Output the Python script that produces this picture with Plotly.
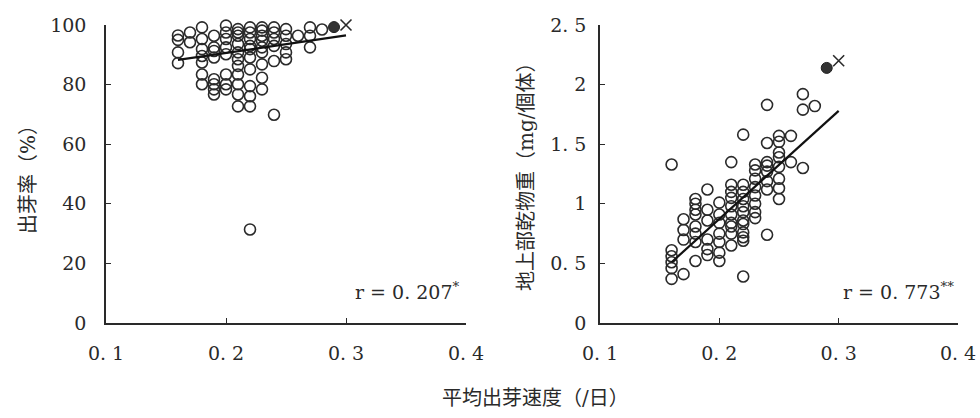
import plotly.graph_objects as go

# ---- data -------------------------------------------------------------
# mean emergence speed (/day) for each column of points
speed_cols = [0.16, 0.17, 0.18, 0.19, 0.20, 0.21, 0.22, 0.23, 0.24, 0.25, 0.26, 0.27, 0.28]

# emergence rate (%) per column
emergence = [
    [96.5, 95.0, 90.8, 87.2],
    [97.5, 94.2],
    [99.2, 95.3, 91.9, 89.6, 87.4, 83.4, 80.1],
    [96.4, 92.5, 91.3, 89.1, 81.8, 80.1, 78.4, 76.7],
    [99.8, 97.5, 95.3, 92.5, 90.2, 83.4, 80.1, 78.4],
    [98.6, 97.5, 96.4, 93.6, 90.8, 88.5, 86.3, 83.4, 80.1, 76.7, 72.7],
    [99.2, 97.5, 95.3, 93.0, 91.9, 89.1, 85.1, 79.5, 76.1, 72.7, 31.4],
    [99.2, 98.1, 96.4, 94.7, 92.5, 90.8, 86.8, 82.3, 78.4],
    [99.2, 97.5, 95.3, 93.0, 87.9, 69.9],
    [98.6, 96.4, 93.6, 90.8, 88.5],
    [96.4],
    [99.2, 96.4, 92.5],
    [98.5],
]

# shoot dry weight (mg/plant) per column
dry_weight = [
    [1.33, 0.61, 0.56, 0.51, 0.46, 0.37],
    [0.87, 0.78, 0.70, 0.41],
    [1.04, 1.00, 0.95, 0.91, 0.81, 0.75, 0.68, 0.52],
    [1.12, 0.95, 0.86, 0.70, 0.62, 0.57],
    [1.01, 0.91, 0.84, 0.75, 0.68, 0.59, 0.52],
    [1.35, 1.16, 1.10, 1.05, 0.98, 0.91, 0.84, 0.81, 0.75, 0.65],
    [1.58, 1.16, 1.10, 1.04, 0.98, 0.93, 0.86, 0.83, 0.76, 0.72, 0.69, 0.39],
    [1.33, 1.28, 1.21, 1.14, 1.07, 1.00, 0.93, 0.88],
    [1.83, 1.51, 1.35, 1.32, 1.27, 1.19, 1.12, 0.74],
    [1.57, 1.52, 1.43, 1.39, 1.31, 1.21, 1.13, 1.04],
    [1.57, 1.35],
    [1.92, 1.79, 1.30],
    [1.82],
]

# highlighted lots (filled circle and cross)
filled_speed = [0.29]
filled_emergence = [99.3]
filled_weight = [2.14]
cross_speed = [0.30]
cross_emergence = [100.0]
cross_weight = [2.20]

# regression line end points
fit_speed = [0.16, 0.30]
fit_emergence = [88.3, 96.5]
fit_weight = [0.51, 1.78]

x_ticks = [0.1, 0.2, 0.3, 0.4]
x_tick_text = ["0. 1", "0. 2", "0. 3", "0. 4"]
y1_ticks = [0, 20, 40, 60, 80, 100]
y1_tick_text = ["0", "20", "40", "60", "80", "100"]
y2_ticks = [0, 0.5, 1, 1.5, 2, 2.5]
y2_tick_text = ["0", "0. 5", "1", "1. 5", "2", "2. 5"]

r_left = "r = 0. 207<sup>*</sup>"
r_right = "r = 0. 773<sup>**</sup>"
x_title = "平均出芽速度（/日）"
y1_title = "出芽率（%）"
y2_title = "地上部乾物重（mg/個体）"


def flatten(cols, groups):
    xs, ys = [], []
    for c, g in zip(cols, groups):
        for v in g:
            xs.append(c)
            ys.append(v)
    return xs, ys


INK = "#2a2a2a"
FONT = "DejaVu Serif, Noto Sans CJK JP"
W, H = 980, 418

fig = go.Figure()

panels = [
    ("x", "y", emergence, filled_emergence, cross_emergence, fit_emergence),
    ("x2", "y2", dry_weight, filled_weight, cross_weight, fit_weight),
]
for xa, ya, groups, f_y, c_y, fit_y in panels:
    px, py = flatten(speed_cols, groups)
    fig.add_trace(go.Scatter(
        x=px, y=py, mode="markers", xaxis=xa, yaxis=ya, cliponaxis=False,
        marker=dict(symbol="circle-open", size=11, color=INK, line=dict(width=1.6, color=INK)),
        showlegend=False, hoverinfo="skip"))
    fig.add_trace(go.Scatter(
        x=fit_speed, y=fit_y, mode="lines", xaxis=xa, yaxis=ya,
        line=dict(color="#111111", width=2.2), showlegend=False, hoverinfo="skip"))
    fig.add_trace(go.Scatter(
        x=filled_speed, y=f_y, mode="markers", xaxis=xa, yaxis=ya, cliponaxis=False,
        marker=dict(symbol="circle", size=11, color="#333333", line=dict(width=1, color="#222222")),
        showlegend=False, hoverinfo="skip"))
    fig.add_trace(go.Scatter(
        x=cross_speed, y=c_y, mode="markers", xaxis=xa, yaxis=ya, cliponaxis=False,
        marker=dict(symbol="x-thin-open", size=11, color=INK, line=dict(width=1.6, color=INK)),
        showlegend=False, hoverinfo="skip"))

axis_common = dict(
    showline=True, linecolor=INK, linewidth=1.6, mirror=False,
    showgrid=False, zeroline=False, automargin=False,
    ticks="inside", ticklen=5, tickwidth=1.4, tickcolor=INK,
    tickfont=dict(family=FONT, size=19, color=INK),
)

y_dom = [(H - 323) / H, (H - 25) / H]

fig.update_layout(
    width=W, height=H,
    margin=dict(l=0, r=0, t=0, b=0, autoexpand=False),
    paper_bgcolor="white", plot_bgcolor="rgba(0,0,0,0)",
    font=dict(family=FONT, color=INK),
    xaxis=dict(domain=[106 / W, 466 / W], range=[0.1, 0.4], tickvals=x_ticks,
               ticktext=x_tick_text, anchor="y", ticklabelstandoff=12, **axis_common),
    yaxis=dict(domain=y_dom, range=[0, 100], tickvals=y1_ticks, ticktext=y1_tick_text,
               anchor="x", ticklabelstandoff=14, **axis_common),
    xaxis2=dict(domain=[600 / W, 958 / W], range=[0.1, 0.4], tickvals=x_ticks,
                ticktext=x_tick_text, anchor="y2", ticklabelstandoff=12, **axis_common),
    yaxis2=dict(domain=y_dom, range=[0, 2.5], tickvals=y2_ticks, ticktext=y2_tick_text,
                anchor="x2", ticklabelstandoff=8, **axis_common),
)

annotations = [
    dict(text=r_left, x=462 / W, y=1 - 291 / H, xanchor="right", yanchor="middle",
         font=dict(family=FONT, size=19, color=INK)),
    dict(text=r_right, x=956 / W, y=1 - 291 / H, xanchor="right", yanchor="middle",
         font=dict(family=FONT, size=19, color=INK)),
    dict(text=x_title, x=535 / W, y=1 - 398 / H, xanchor="center", yanchor="middle",
         font=dict(family=FONT, size=20, color=INK)),
    dict(text=y1_title, x=28 / W, y=1 - 175 / H, xanchor="center", yanchor="middle",
         textangle=-90, font=dict(family=FONT, size=20, color=INK)),
    dict(text=y2_title, x=526 / W, y=1 - 172 / H, xanchor="center", yanchor="middle",
         textangle=-90, font=dict(family=FONT, size=20, color=INK)),
]
for a in annotations:
    a.update(xref="paper", yref="paper", showarrow=False)
fig.update_layout(annotations=annotations)

fig.write_html("out.html")
